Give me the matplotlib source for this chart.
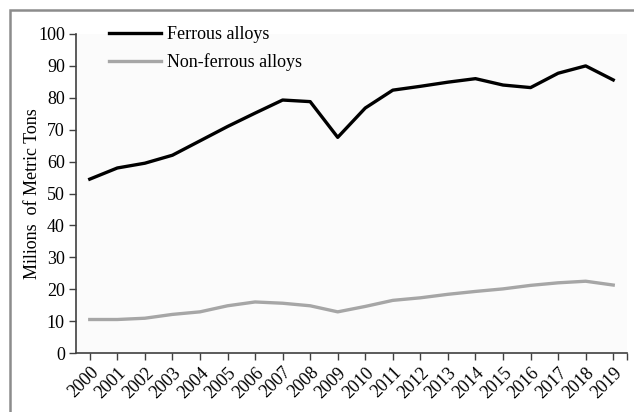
import matplotlib
matplotlib.use('Agg')
import numpy as np
from matplotlib import pyplot as plt
from matplotlib.patches import Rectangle

years = [str(y) for y in range(2000, 2020)]
ferrous = [54.5, 58.0, 59.5, 62.0, 66.5, 71.0, 75.2, 79.3, 78.8, 67.6,
           76.8, 82.4, 83.6, 84.9, 86.0, 84.0, 83.2, 87.7, 90.0, 85.6]
non_ferrous = [10.5, 10.5, 10.9, 12.1, 12.9, 14.8, 16.0, 15.6, 14.8, 12.9,
               14.6, 16.5, 17.3, 18.4, 19.3, 20.1, 21.2, 22.0, 22.5, 21.3]

plt.rcParams['font.family'] = ['Liberation Serif', 'DejaVu Serif']

fig = plt.figure(figsize=(6.34, 4.12), dpi=100)
fig.patch.set_facecolor('white')
# grey frame (only top/left visible in the crop)
fig.add_artist(Rectangle((10 / 634, -0.1), 2.0, 1.0 - 10 / 412 + 0.1,
                         transform=fig.transFigure, fill=False,
                         edgecolor='#8c8c8c', linewidth=1.8))

ax = fig.add_axes([76 / 634, 1 - 353 / 412, (627 - 76) / 634, (353 - 34) / 412])
ax.set_facecolor('#fbfbfb')
x = np.arange(len(years))
ax.plot(x, ferrous, color='black', linewidth=2.4, label='Ferrous alloys')
ax.plot(x, non_ferrous, color='#a6a6a6', linewidth=2.4, label='Non-ferrous alloys')

ax.set_xlim(-0.5, len(years) - 0.5)
ax.set_ylim(0, 100)
ax.set_yticks(range(0, 101, 10))
ax.set_xticks(x)
ax.set_xticklabels(years, rotation=45, ha='right', rotation_mode='anchor', fontsize=13)
ax.set_xticks([len(years) - 0.5], minor=True)
ax.tick_params(axis='y', labelsize=13, length=5, width=1, color='#404040', pad=3)
ax.tick_params(axis='x', which='both', length=5, width=1, color='#404040', pad=3)
for s in ['top', 'right']:
    ax.spines[s].set_visible(False)
for s in ['left', 'bottom']:
    ax.spines[s].set_color('#404040')
    ax.spines[s].set_linewidth(1.2)

ax.set_ylabel('Milions  of Metric Tons', fontsize=13, labelpad=-2)

leg = ax.legend(loc='upper left', bbox_to_anchor=(0.03, 1.075), frameon=False,
                fontsize=13, handlelength=2.9, handletextpad=0.3, labelspacing=0.55)

fig.savefig('out.png', dpi=100)
